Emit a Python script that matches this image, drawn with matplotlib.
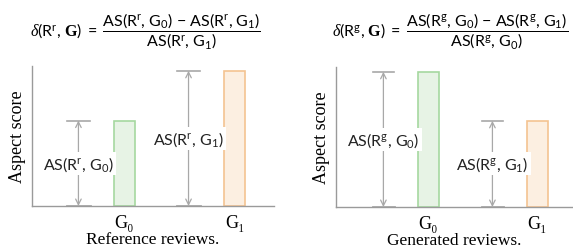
import matplotlib
matplotlib.use("Agg")
import matplotlib.pyplot as plt

# Data
groups = ["G₀", "G₁"]
ref_scores = [0.61, 0.965]   # AS(R^r, G0), AS(R^r, G1)
gen_scores = [0.965, 0.615]  # AS(R^g, G0), AS(R^g, G1)
ref_labels = [r"$\mathrm{AS(R^r,\,G_0)}$", r"$\mathrm{AS(R^r,\,G_1)}$"]
gen_labels = [r"$\mathrm{AS(R^g,\,G_0)}$", r"$\mathrm{AS(R^g,\,G_1)}$"]
ref_formula = (r"$\delta(\mathrm{R^r},\,\mathbf{G})\ =\ "
               r"\dfrac{\mathrm{AS(R^r,\,G_0)\,-\,AS(R^r,\,G_1)}}{\mathrm{AS(R^r,\,G_1)}}$")
gen_formula = (r"$\delta(\mathrm{R^g},\,\mathbf{G})\ =\ "
               r"\dfrac{\mathrm{AS(R^g,\,G_0)\,-\,AS(R^g,\,G_1)}}{\mathrm{AS(R^g,\,G_0)}}$")

# Styling
plt.rcParams["mathtext.fontset"] = "custom"
plt.rcParams["mathtext.rm"] = "Lato"
plt.rcParams["mathtext.it"] = "Liberation Serif:italic"
plt.rcParams["mathtext.bf"] = "Liberation Serif:bold"
serif = ["Liberation Serif", "DejaVu Serif"]
spine_color = "#9a9a9a"
arrow_color = "#a8a8a8"
face_colors = ["#e7f3e5", "#fcefe1"]
edge_colors = ["#a6d8a0", "#f4c391"]
bar_width = 0.087
bar_pos = {"ref": [0.382, 0.837], "gen": [0.390, 0.850]}
arrow_shift = 0.19
cap_half = 0.046

fig = plt.figure(figsize=(5.73, 2.51), dpi=100)
ax_ref = fig.add_axes([0.0558, 0.1753, 0.4223, 0.558])
ax_gen = fig.add_axes([0.5864, 0.1713, 0.4136, 0.558])


def draw_panel(ax, xs, scores, labels, xlabel):
    ax.bar(xs, scores, width=bar_width, color=face_colors, edgecolor=edge_colors,
           linewidth=1.2, zorder=2)
    for x, s, lab in zip(xs, scores, labels):
        ax_x = x - arrow_shift
        ax.plot([ax_x - cap_half, ax_x + cap_half], [s, s], color=arrow_color, lw=1.2)
        ax.plot([ax_x - cap_half, ax_x + cap_half], [0, 0], color=arrow_color, lw=2)
        ax.annotate("", xy=(ax_x, s), xytext=(ax_x, 0),
                    arrowprops=dict(arrowstyle="<->", color=arrow_color, lw=0.9,
                                    shrinkA=0, shrinkB=0))
        ax.text(ax_x, s / 2, lab, ha="center", va="center", fontsize=11.5,
                color="#222222",
                bbox=dict(facecolor="white", edgecolor="none", pad=1.5))
    ax.set_xlim(0, 1)
    ax.set_ylim(0, 1)
    ax.set_xticks(xs)
    ax.set_xticklabels(groups, family=serif, fontsize=13)
    ax.tick_params(length=0, pad=6)
    ax.set_yticks([])
    for side in ["top", "right"]:
        ax.spines[side].set_visible(False)
    for side in ["left", "bottom"]:
        ax.spines[side].set_color(spine_color)
        ax.spines[side].set_linewidth(1.0)
    ax.set_xlabel(xlabel, family=serif, fontsize=12.5, labelpad=0)
    ax.set_ylabel("Aspect score", family=serif, fontsize=13, labelpad=4)


draw_panel(ax_ref, bar_pos["ref"], ref_scores, ref_labels, "Reference reviews.")
draw_panel(ax_gen, bar_pos["gen"], gen_scores, gen_labels, "Generated reviews.")

fig.text(0.253, 0.875, ref_formula, ha="center", va="center", fontsize=11.5)
fig.text(0.785, 0.875, gen_formula, ha="center", va="center", fontsize=11.5)

fig.savefig("out.png", dpi=100)
